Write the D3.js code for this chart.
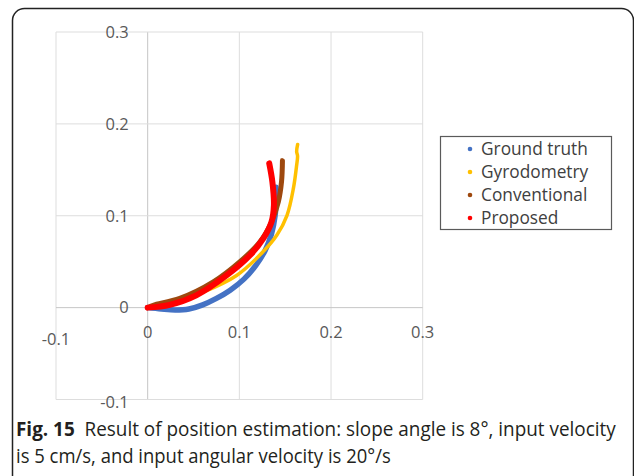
<!DOCTYPE html>
<html>
<head>
<meta charset="utf-8">
<script src="https://cdn.jsdelivr.net/npm/d3@7"></script>
<style>
  body { margin: 0; background: #fff; }
  svg { display: block; }
</style>
</head>
<body>
<div id="chart"></div>
<script>
// ---- data ----
var xTicks = [-0.1, 0, 0.1, 0.2, 0.3];
var yTicks = [-0.1, 0, 0.1, 0.2, 0.3];
var seriesNames = ["Ground truth", "Gyrodometry", "Conventional", "Proposed"];
var seriesColors = ["#4472c4", "#ffc000", "#9e480e", "#ff0000"];

var groundTruth = [[0, 0], [0.015, -0.0015], [0.03, -0.0025], [0.045, -0.0015], [0.06, 0.003],
  [0.075, 0.010], [0.09, 0.019], [0.105, 0.031], [0.118, 0.046], [0.128, 0.062],
  [0.135, 0.08], [0.139, 0.1], [0.140, 0.119], [0.140, 0.131]];
var gyrodometry = [[0, 0], [0.024, 0.004], [0.061, 0.017], [0.097, 0.035], [0.126, 0.061],
  [0.141, 0.079], [0.152, 0.1005], [0.159, 0.13], [0.1625, 0.155], [0.1635, 0.165],
  [0.1625, 0.170], [0.1636, 0.1776]];
var conventional = [[0, 0], [0.006, 0.0025], [0.035, 0.010], [0.0716, 0.028], [0.1007, 0.05],
  [0.1225, 0.0716], [0.135, 0.093], [0.1425, 0.115], [0.146, 0.137], [0.147, 0.160]];
var proposed = [[0, 0], [0.024, 0.003], [0.053, 0.0134], [0.086, 0.035], [0.1116, 0.057],
  [0.126, 0.075], [0.135, 0.093], [0.1377, 0.1114], [0.136, 0.137], [0.1326, 0.157]];

var caption1Bold = "Fig. 15";
var caption1 = "  Result of position estimation: slope angle is 8°, input velocity";
var caption2 = "is 5 cm/s, and input angular velocity is 20°/s";

var allSeries = [groundTruth, gyrodometry, conventional, proposed];
var widths = [5.5, 3.5, 5, 6];

var W = 634, H = 476;
var svg = d3.select("#chart").append("svg").attr("width", W).attr("height", H);

// outer frame
svg.append("rect")
  .attr("x", 12.5).attr("y", 8.5)
  .attr("width", 621).attr("height", 480)
  .attr("rx", 12)
  .attr("fill", "none").attr("stroke", "#222").attr("stroke-width", 1.5);

var x = d3.scaleLinear().domain([-0.1, 0.3]).range([56, 422.7]);
var y = d3.scaleLinear().domain([-0.1, 0.3]).range([399.5, 32]);

// gridlines
svg.append("g").selectAll("line").data(xTicks).enter().append("line")
  .attr("x1", function(d){ return x(d); }).attr("x2", function(d){ return x(d); })
  .attr("y1", y(0.3)).attr("y2", y(-0.1))
  .attr("stroke", function(d){ return d === 0 ? "#c6c6c6" : "#dddddd"; })
  .attr("stroke-width", 1);

svg.append("g").selectAll("line").data(yTicks).enter().append("line")
  .attr("y1", function(d){ return y(d); }).attr("y2", function(d){ return y(d); })
  .attr("x1", x(-0.1)).attr("x2", x(0.3))
  .attr("stroke", function(d){ return d === 0 ? "#c6c6c6" : "#dddddd"; })
  .attr("stroke-width", 1);

var fmt = function(d){ return d === 0 ? "0" : d3.format(".1f")(d).replace("\u2212", "-"); };

// y tick labels next to the vertical axis
svg.append("g").selectAll("text").data(yTicks).enter().append("text")
  .attr("x", x(0) - 19)
  .attr("y", function(d){ return y(d) + (d === -0.1 ? 3 : 0); })
  .attr("dy", "0.35em")
  .attr("text-anchor", "end")
  .style("font-family", "'Open Sans', sans-serif")
  .style("font-size", "16.5px")
  .style("fill", "#595959")
  .text(fmt);

// x tick labels below the horizontal axis
svg.append("g").selectAll("text").data(xTicks).enter().append("text")
  .attr("x", function(d){ return x(d); })
  .attr("y", function(d){ return y(0) + (d === -0.1 ? 32 : 25); })
  .attr("dy", "0.35em")
  .attr("text-anchor", "middle")
  .style("font-family", "'Open Sans', sans-serif")
  .style("font-size", "16.5px")
  .style("fill", "#595959")
  .text(fmt);

// series
var line = d3.line()
  .x(function(d){ return x(d[0]); })
  .y(function(d){ return y(d[1]); })
  .curve(d3.curveCatmullRom);

svg.append("g").selectAll("path").data(allSeries).enter().append("path")
  .attr("d", line)
  .attr("fill", "none")
  .attr("stroke", function(d, i){ return seriesColors[i]; })
  .attr("stroke-width", function(d, i){ return widths[i]; })
  .attr("stroke-linecap", "round")
  .attr("stroke-linejoin", "round");

// legend
var legend = svg.append("g");
legend.append("rect")
  .attr("x", 440.5).attr("y", 136.5)
  .attr("width", 171).attr("height", 93)
  .attr("fill", "#fff").attr("stroke", "#5a5a5a").attr("stroke-width", 1.2);

var items = legend.selectAll("g.item").data(seriesNames).enter().append("g")
  .attr("class", "item")
  .attr("transform", function(d, i){ return "translate(470," + (149 + i * 23) + ")"; });

items.append("circle").attr("r", 2.3).attr("cx", 0).attr("cy", 0)
  .attr("fill", function(d, i){ return seriesColors[i]; });

items.append("text")
  .attr("x", 11).attr("dy", "0.35em")
  .style("font-family", "'Open Sans', sans-serif")
  .style("font-size", "17.3px")
  .style("fill", "#404040")
  .text(function(d){ return d; });

// caption: natural text, squeezed horizontally to the reference width
var cap = svg.append("g")
  .style("font-family", "'Open Sans', sans-serif")
  .style("font-size", "20px")
  .style("fill", "#231f20");

function captionLine(yPos, target, build) {
  var g = cap.append("g");
  var t = g.append("text").attr("x", 0).attr("y", 0);
  build(t);
  var w = t.node().getComputedTextLength();
  g.attr("transform", "translate(16," + yPos + ") scale(" + (target / w) + ",1)");
}

captionLine(436, 600, function(t){
  t.append("tspan").style("font-weight", "bold").text(caption1Bold);
  t.append("tspan").style("white-space", "pre").text(caption1);
});
captionLine(463, 375, function(t){ t.text(caption2); });
</script>
</body>
</html>
